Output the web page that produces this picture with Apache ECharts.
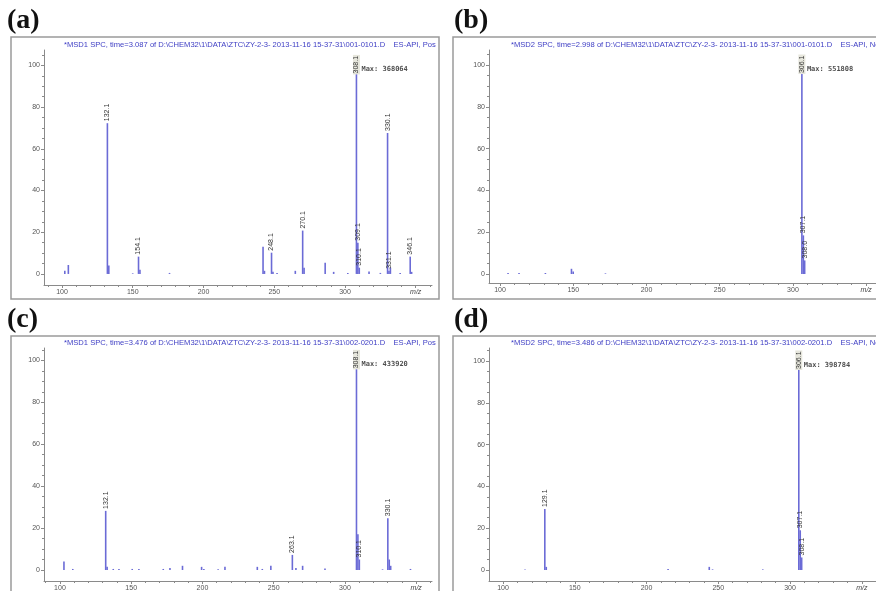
<!DOCTYPE html>
<html><head><meta charset="utf-8">
<script src="https://cdn.jsdelivr.net/npm/echarts@6/dist/echarts.min.js"></script>
<style>html,body{margin:0;padding:0;background:#fff}#c{width:876px;height:591px}</style>
</head><body><div id="c"></div>
<script>
// ---- tick labels ----
const xMajorTicks = [100, 150, 200, 250, 300, 350];
const xMinorTicks = [90, 110, 120, 130, 140, 160, 170, 180, 190, 210, 220, 230, 240, 260, 270, 280, 290, 310, 320, 330, 340, 360];
const yMajorTicks = [0, 20, 40, 60, 80, 100];
const yMinorTicks = [5, 10, 15, 25, 30, 35, 45, 50, 55, 65, 70, 75, 85, 90, 95, 105];

// ---- panel (a) ----
const aMz  = [102.0, 104.5, 132.1, 133.1, 150.0, 154.1, 155.1, 176.0, 242.1, 243.1, 248.1, 249.1, 252.0, 264.9, 270.1, 271.1, 286.0, 292.0, 302.0, 308.1, 309.1, 310.1, 317.0, 325.0, 330.1, 331.1, 332.1, 339.0, 346.1, 347.1];
const aInt = [1.5, 4.3, 72.3, 4.0, 0.3, 8.3, 2.0, 0.5, 13.0, 1.5, 10.2, 1.0, 0.5, 1.5, 20.8, 3.0, 5.4, 1.0, 0.5, 100, 15.0, 3.0, 1.2, 0.5, 67.6, 1.5, 3.0, 0.5, 8.3, 1.0];
const aLab = ['', '', '132.1', '', '', '154.1', '', '', '', '', '248.1', '', '', '', '270.1', '', '', '', '', '308.1', '309.1', '310.1', '', '', '330.1', '331.1', '', '', '346.1', ''];
const aHeader = '*MSD1 SPC, time=3.087 of D:\\CHEM32\\1\\DATA\\ZTC\\ZY-2-3- 2013-11-16 15-37-31\\001-0101.D    ES-API, Pos';
const aMax = 'Max: 368064';

// ---- panel (b) ----
const bMz  = [105.5, 113.0, 131.0, 148.8, 150.0, 172.0, 306.1, 307.1, 308.0];
const bInt = [0.5, 0.5, 0.5, 2.5, 1.2, 0.3, 100, 18.5, 6.5];
const bLab = ['', '', '', '', '', '', '306.1', '307.1', '308.0'];
const bHeader = '*MSD2 SPC, time=2.998 of D:\\CHEM32\\1\\DATA\\ZTC\\ZY-2-3- 2013-11-16 15-37-31\\001-0101.D    ES-API, Neg, Scan, Frag: 70';
const bMax = 'Max: 551808';

// ---- panel (c) ----
const cMz  = [102.8, 109.0, 132.1, 133.1, 137.4, 141.4, 150.7, 155.4, 172.5, 177.2, 186.0, 199.4, 201.0, 211.0, 215.8, 238.5, 242.0, 248.0, 263.1, 265.6, 270.3, 286.0, 308.1, 309.1, 310.1, 326.4, 330.1, 331.1, 332.1, 346.0];
const cInt = [4.0, 0.5, 28.2, 1.5, 0.5, 0.5, 0.5, 0.5, 0.5, 1.0, 2.0, 1.5, 0.5, 0.3, 1.5, 1.5, 0.5, 2.0, 7.2, 1.0, 2.0, 0.7, 100, 17.0, 5.0, 0.3, 24.7, 5.0, 2.0, 0.5];
const cLab = ['', '', '132.1', '', '', '', '', '', '', '', '', '', '', '', '', '', '', '', '263.1', '', '', '', '308.1', '', '310.1', '', '330.1', '', '', ''];
const cHeader = '*MSD1 SPC, time=3.476 of D:\\CHEM32\\1\\DATA\\ZTC\\ZY-2-3- 2013-11-16 15-37-31\\002-0201.D    ES-API, Pos';
const cMax = 'Max: 433920';

// ---- panel (d) ----
const dMz  = [115.3, 129.1, 130.1, 215.0, 243.7, 246.0, 281.0, 306.1, 307.1, 308.1];
const dInt = [0.3, 29.2, 1.5, 0.5, 1.5, 0.3, 0.3, 100, 19.0, 6.0];
const dLab = ['', '129.1', '', '', '', '', '', '306.1', '307.1', '308.1'];
const dHeader = '*MSD2 SPC, time=3.486 of D:\\CHEM32\\1\\DATA\\ZTC\\ZY-2-3- 2013-11-16 15-37-31\\002-0201.D    ES-API, Neg, Scan, Frag: 70';
const dMax = 'Max: 398784';

// ---- layout (positions/styles only) ----
const panels = [
  {mz: aMz, it: aInt, lab: aLab, header: aHeader, max: aMax, letter: '(a)',
   grid: {left: 44, top: 50, width: 388, height: 235}, x: [87.3, 361.5], y: [-5.3, 107.4],
   frame: [11, 37, 428, 262], letterXY: [7, 7], headerXY: [64, 41]},
  {mz: bMz, it: bInt, lab: bLab, header: bHeader, max: bMax, letter: '(b)',
   grid: {left: 489, top: 50, width: 387, height: 233}, x: [92.5, 356.7], y: [-4.3, 107.2],
   frame: [453, 37, 440, 262], letterXY: [454, 7], headerXY: [511, 41]},
  {mz: cMz, it: cInt, lab: cLab, header: cHeader, max: cMax, letter: '(c)',
   grid: {left: 44, top: 348, width: 388, height: 233}, x: [88.8, 361.1], y: [-5.25, 105.9],
   frame: [11, 336, 428, 270], letterXY: [7, 306], headerXY: [64, 339]},
  {mz: dMz, it: dInt, lab: dLab, header: dHeader, max: dMax, letter: '(d)',
   grid: {left: 489, top: 348, width: 387, height: 233}, x: [90.2, 359.9], y: [-5.26, 106.2],
   frame: [453, 336, 440, 270], letterXY: [454, 306], headerXY: [511, 339]}
];

const BAR = '#6b6bd6';
const AX = '#8a8a8a';
const grids = [], xAxes = [], yAxes = [], series = [], graphics = [];

panels.forEach((p, k) => {
  grids.push(Object.assign({outerBoundsMode: 'none', containLabel: false}, p.grid));
  const xBase = {type: 'value', gridIndex: k, min: p.x[0], max: p.x[1], position: 'bottom', splitLine: {show: false}};
  xAxes.push(Object.assign({}, xBase, {
    axisLine: {show: true, onZero: false, lineStyle: {color: AX, width: 1}},
    axisTick: {show: true, customValues: xMajorTicks, length: 3, lineStyle: {color: AX}},
    axisLabel: {show: true, customValues: xMajorTicks, margin: 4, fontSize: 7, color: '#555', fontFamily: 'Liberation Sans',
      formatter: v => v === 350 ? '{i|m/z}' : String(v), rich: {i: {fontStyle: 'italic', fontSize: 7, color: '#444', fontFamily: 'Liberation Sans'}}}
  }));
  xAxes.push(Object.assign({}, xBase, {
    axisLine: {show: false, onZero: false}, axisLabel: {show: false},
    axisTick: {show: true, customValues: xMinorTicks, length: 2, lineStyle: {color: AX}}
  }));
  const yBase = {type: 'value', gridIndex: k, min: p.y[0], max: p.y[1], position: 'left', splitLine: {show: false}};
  yAxes.push(Object.assign({}, yBase, {
    axisLine: {show: true, onZero: false, lineStyle: {color: AX, width: 1}},
    axisTick: {show: true, customValues: yMajorTicks, length: 3, lineStyle: {color: AX}},
    axisLabel: {show: true, customValues: yMajorTicks, margin: 4, fontSize: 7, color: '#555', fontFamily: 'Liberation Sans'}
  }));
  yAxes.push(Object.assign({}, yBase, {
    axisLine: {show: false, onZero: false}, axisLabel: {show: false},
    axisTick: {show: true, customValues: yMinorTicks, length: 2, lineStyle: {color: AX}}
  }));

  let top = 0;
  p.it.forEach((v, i) => { if (v > p.it[top]) top = i; });
  const data = p.mz.map((m, i) => {
    const item = {value: [m, p.it[i]]};
    if (p.lab[i]) {
      item.label = {show: true, formatter: p.lab[i], rotate: 90, position: 'top', align: 'left', verticalAlign: 'middle',
        distance: 2, fontSize: 7, color: '#333', fontFamily: 'Liberation Sans'};
      if (i === top) {
        Object.assign(item.label, {distance: -9, backgroundColor: '#e6e6dc', padding: [0, 1]});
      }
    }
    return item;
  });
  series.push({type: 'bar', xAxisIndex: 2 * k, yAxisIndex: 2 * k, barWidth: 1.6,
    itemStyle: {color: BAR}, data: data, animation: false, silent: true});
  series.push({type: 'scatter', xAxisIndex: 2 * k, yAxisIndex: 2 * k, symbolSize: 0, animation: false, silent: true,
    data: [[p.mz[top], p.it[top]]],
    label: {show: true, position: 'right', distance: 5, offset: [0, 4], formatter: p.max, fontSize: 7,
      fontWeight: 'bold', color: '#222', fontFamily: 'DejaVu Sans Mono'}});

  graphics.push({type: 'rect', shape: {x: p.frame[0], y: p.frame[1], width: p.frame[2], height: p.frame[3]},
    style: {fill: 'none', stroke: '#9a9a9a', lineWidth: 1.5}, silent: true});
  graphics.push({type: 'text', x: p.letterXY[0], y: p.letterXY[1],
    style: {text: p.letter, font: 'bold 28px "Liberation Serif"', fill: '#111', textVerticalAlign: 'top'}});
  graphics.push({type: 'text', x: p.headerXY[0], y: p.headerXY[1],
    style: {text: p.header, font: '7.6px "Liberation Sans"', fill: '#3d3dc4', textVerticalAlign: 'top'}});
});

const chart = echarts.init(document.getElementById('c'), null, {renderer: 'canvas'});
chart.setOption({
  animation: false,
  grid: grids, xAxis: xAxes, yAxis: yAxes, series: series, graphic: graphics
});
</script>
</body></html>
